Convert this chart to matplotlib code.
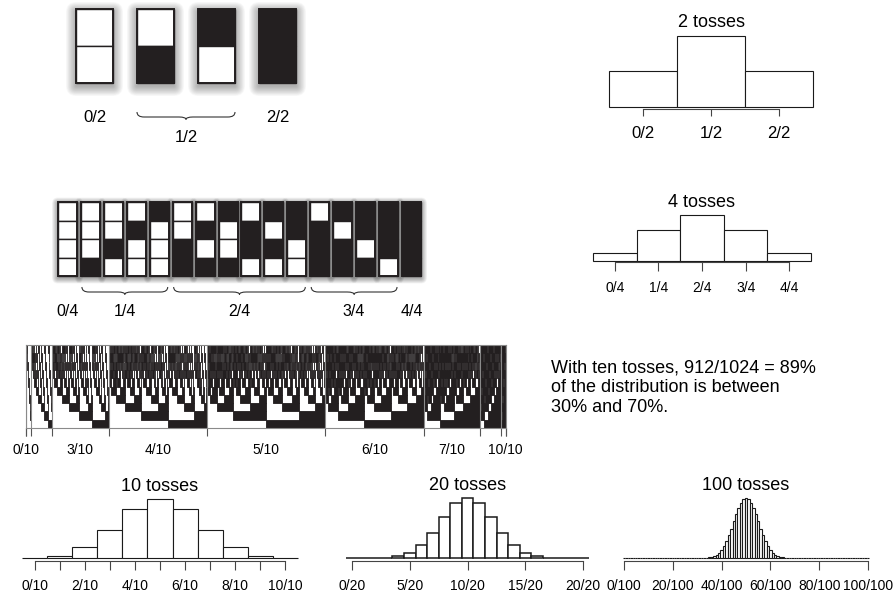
import numpy as np
import matplotlib.pyplot as plt
from matplotlib.patches import Rectangle, PathPatch, FancyBboxPatch
from matplotlib.path import Path

plt.rcParams['font.family'] = ['Liberation Sans', 'DejaVu Sans']

W, H = 893, 593
INK = '#231f20'

# ---- data ----
# coin boxes, read top to bottom, '1' = black (head)
boxes2 = ['00', '01', '10', '11']
labels2 = ['0/2', '1/2', '2/2']

boxes4 = ['0000', '0001', '0010', '0100', '1000',
          '0011', '0101', '1001', '0110', '1010', '1100',
          '0111', '1011', '1101', '1110', '1111']
labels4 = ['0/4', '1/4', '2/4', '3/4', '4/4']

counts2 = [1, 2, 1]
counts4 = [1, 4, 6, 4, 1]
counts10 = [1, 10, 45, 120, 210, 252, 210, 120, 45, 10, 1]
counts20 = [1, 20, 190, 1140, 4845, 15504, 38760, 77520, 125970, 167960, 184756,
            167960, 125970, 77520, 38760, 15504, 4845, 1140, 190, 20, 1]
# probability x 1e-4 for k = 30..70 heads out of 100 (outside this it is ~0)
p100_mid = [0.2, 0.5, 1.1, 2.3, 4.6, 8.6, 15.6, 27.0, 44.7, 71.1, 108.4,
            158.7, 222.9, 300.7, 389.5, 484.7, 579.6, 665.9, 735.3, 780.3, 795.9,
            780.3, 735.3, 665.9, 579.6, 484.7, 389.5, 300.7, 222.9, 158.7, 108.4,
            71.1, 44.7, 27.0, 15.6, 8.6, 4.6, 2.3, 1.1, 0.5, 0.2]

grid_labels = {0: '0/10', 3: '3/10', 4: '4/10', 5: '5/10', 6: '6/10', 7: '7/10', 10: '10/10'}
labels10 = ['0/10', '', '2/10', '', '4/10', '', '6/10', '', '8/10', '', '10/10']
ticks20 = [0, 5, 10, 15, 20]
labels20 = ['0/20', '5/20', '10/20', '15/20', '20/20']
ticks100 = [0, 20, 40, 60, 80, 100]
labels100 = ['0/100', '20/100', '40/100', '60/100', '80/100', '100/100']

note = "With ten tosses, 912/1024 = 89%\nof the distribution is between\n30% and 70%."

fig = plt.figure(figsize=(W / 100, H / 100), dpi=100)
canvas = fig.add_axes([0, 0, 1, 1])
canvas.axis('off')
canvas.set_xlim(0, W)
canvas.set_ylim(H, 0)


def px_axes(x0, y0, x1, y1):
    return fig.add_axes([x0 / W, 1 - y1 / H, (x1 - x0) / W, (y1 - y0) / H])


def shadow(rects, dy=2.5, spread=8, layers=12, alpha=0.045):
    # soft drop shadow built from stacked translucent rounded boxes
    for x, y, w, h in rects:
        for i in range(layers):
            e = spread * (i + 1) / layers
            canvas.add_patch(FancyBboxPatch((x, y + dy), w, h,
                                            boxstyle=f'round,pad={e:.2f},rounding_size={e:.2f}',
                                            fc='black', ec='none', alpha=alpha, zorder=1))


def draw_box(x, y, w, h, bits):
    ch = h / len(bits)
    for i, b in enumerate(bits):
        canvas.add_patch(Rectangle((x, y + i * ch), w, ch,
                                   facecolor=INK if b == '1' else 'white',
                                   edgecolor=INK, lw=1.0, zorder=3))
    canvas.add_patch(Rectangle((x, y), w, h, fill=False, edgecolor=INK, lw=1.4, zorder=4))


def brace(x0, x1, y, d=5, t=2.5, r=7):
    xm = (x0 + x1) / 2
    yb = y + d
    verts = [(x0, y), (x0, yb), (x0 + r, yb), (xm - r, yb), (xm, yb), (xm, yb + t),
             (xm, yb + t), (xm, yb), (xm + r, yb), (x1 - r, yb), (x1, yb), (x1, y)]
    codes = [Path.MOVETO, Path.CURVE3, Path.CURVE3, Path.LINETO, Path.CURVE3, Path.CURVE3,
             Path.MOVETO, Path.CURVE3, Path.CURVE3, Path.LINETO, Path.CURVE3, Path.CURVE3]
    canvas.add_patch(PathPatch(Path(verts, codes), fill=False, edgecolor='#333', lw=0.8, zorder=3))


# ---- 2 toss boxes ----
bx, by, bw, bh, step = 76, 9, 37, 74, 61
rects = [(bx + i * step, by, bw, bh) for i in range(len(boxes2))]
shadow(rects, dy=3, spread=10, layers=14, alpha=0.022)
for (x, y, w, h), bits in zip(rects, boxes2):
    draw_box(x, y, w, h, bits)
groups = {}
for i, bits in enumerate(boxes2):
    groups.setdefault(bits.count('1'), []).append(i)
for k, idx in groups.items():
    xa, xb = rects[idx[0]][0], rects[idx[-1]][0] + bw
    if len(idx) > 1:
        brace(xa, xb, 112)
        canvas.text((xa + xb) / 2, 138, labels2[k], ha='center', va='center', fontsize=12)
    else:
        canvas.text((xa + xb) / 2, 117.5, labels2[k], ha='center', va='center', fontsize=12)

# ---- 4 toss boxes ----
bx, by, bw, bh, step = 58, 202, 19, 74, 22.93
rects = [(bx + i * step, by, bw, bh) for i in range(len(boxes4))]
shadow(rects, dy=1.5, spread=6, layers=10, alpha=0.04)
for (x, y, w, h), bits in zip(rects, boxes4):
    draw_box(x, y, w, h, bits)
groups = {}
for i, bits in enumerate(boxes4):
    groups.setdefault(bits.count('1'), []).append(i)
for k, idx in groups.items():
    xa, xb = rects[idx[0]][0], rects[idx[-1]][0] + bw
    if len(idx) > 1:
        brace(xa + 1, xb - 1, 287)
    canvas.text((xa + xb) / 2, 311, labels4[k], ha='center', va='center', fontsize=11.5)

# ---- 10 toss sequence grid ----
order = []
for k in range(11):
    order += [n for n in range(1024) if bin(n).count('1') == k]
bits10 = np.array([[(n >> r) & 1 for n in order] for r in range(10)])
gax = px_axes(26, 345, 506, 428)
for r in range(10):
    row = np.concatenate([[0], bits10[r], [0]])
    dif = np.diff(row)
    starts = np.where(dif == 1)[0]
    ends = np.where(dif == -1)[0]
    gax.broken_barh(list(zip(starts, ends - starts)), (r, 1), facecolors=INK,
                    edgecolor=INK, lw=0.62)
bounds = np.concatenate([[0], np.cumsum(counts10)])
gax.vlines(bounds[1:-1], 0, 10, color='#8a8a8a', lw=0.8)
gax.set_xlim(0, 1024)
gax.set_ylim(10, 0)
for s in gax.spines.values():
    s.set_color('#8a8a8a')
    s.set_linewidth(0.8)
gax.set_yticks([])
gax.set_xticks(bounds, [''] * len(bounds))
gax.tick_params(axis='x', which='major', length=6, width=0.8, color='#555')
centers = [(bounds[k] + bounds[k + 1]) / 2 for k in grid_labels]
gax.set_xticks(centers, list(grid_labels.values()), minor=True)
gax.tick_params(axis='x', which='minor', length=0, pad=10.5, labelsize=10)

canvas.text(551, 359.5, note, ha='left', va='top', fontsize=13, linespacing=1.2)


# ---- histograms ----
def hist(x0, x1, y_top, y_base, values, ticks, labels, title, fs_tick=10, fs_title=13,
         lw=0.8, tick_len=6.5, pad=7.5, title_pad=5.5, outward=2):
    ax = px_axes(x0, y_top, x1, y_base)
    k = np.arange(len(values))
    ax.bar(k, values, width=1, facecolor='white', edgecolor='#1a1a1a', lw=lw, clip_on=False)
    ax.set_xlim(-0.5, len(values) - 0.5)
    ax.set_ylim(0, max(values))
    for s in ['top', 'right', 'left']:
        ax.spines[s].set_visible(False)
    ax.spines['bottom'].set_position(('outward', outward))
    ax.spines['bottom'].set_bounds(ticks[0], ticks[-1])
    ax.spines['bottom'].set_color('#444')
    ax.spines['bottom'].set_linewidth(0.8)
    ax.set_yticks([])
    ax.set_xticks(ticks, labels)
    ax.tick_params(axis='x', length=tick_len, width=0.8, pad=pad, labelsize=fs_tick, color='#444')
    ax.set_title(title, fontsize=fs_title, pad=title_pad)
    ax.patch.set_alpha(0)
    return ax


hist(609, 813, 36, 107, counts2, [0, 1, 2], labels2, '2 tosses', fs_tick=12,
     tick_len=5, pad=7, title_pad=6.3, outward=1.4)
hist(593, 811, 215, 261, counts4, list(range(5)), labels4, '4 tosses',
     tick_len=6.3, pad=7.3, title_pad=5.6, outward=0.8)
hist(22, 298, 499, 558, counts10, list(range(11)), labels10, '10 tosses',
     pad=6.5, outward=2.2)
hist(346.2, 589.0, 498, 558, counts20, ticks20, labels20, '20 tosses',
     lw=1.1, pad=6.5, outward=2.2)
h100 = np.zeros(101)
h100[30:71] = p100_mid
hist(622.8, 869.2, 498, 558, h100, ticks100, labels100, '100 tosses',
     lw=0.8, pad=6.5, outward=2.2)

fig.savefig('out.png', dpi=100)
